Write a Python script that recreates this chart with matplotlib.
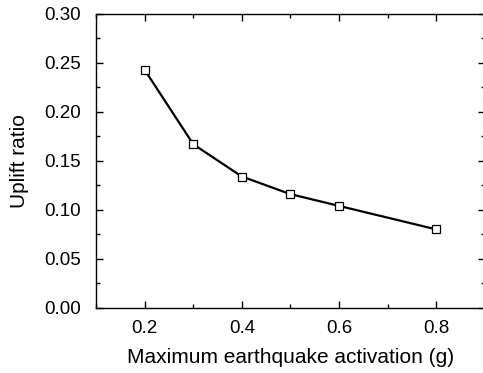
import numpy as np
import matplotlib
matplotlib.use("Agg")
import matplotlib.pyplot as plt
from matplotlib.ticker import MultipleLocator

plt.rcParams['font.family'] = ['Liberation Sans', 'DejaVu Sans']

# data
pga = [0.2, 0.3, 0.4, 0.5, 0.6, 0.8]
uplift = [0.243, 0.167, 0.134, 0.116, 0.104, 0.080]
xticks = [0.2, 0.4, 0.6, 0.8]
xlabels = ["0.2", "0.4", "0.6", "0.8"]

fig = plt.figure(figsize=(4.83, 3.73), dpi=100)
ax = fig.add_axes([0.1988, 0.175, 0.805, 0.7875])

ax.plot(pga, uplift, color="black", lw=1.6, marker="s", ms=5.2,
        mfc="white", mec="black", mew=0.9)

ax.set_xlim(0.1, 0.9)
ax.set_ylim(0.0, 0.30)
ax.set_xticks(xticks)
ax.set_xticklabels(xlabels)
ax.xaxis.set_minor_locator(MultipleLocator(0.1))
ax.yaxis.set_major_locator(MultipleLocator(0.05))
ax.yaxis.set_minor_locator(MultipleLocator(0.025))
ax.yaxis.set_major_formatter(matplotlib.ticker.FormatStrFormatter("%.2f"))

ax.tick_params(which="both", direction="in", top=True, right=True,
               labelsize=13.5, width=1.0)
ax.tick_params(axis="x", pad=9)
ax.tick_params(axis="y", pad=11)
ax.tick_params(which="major", length=5)
ax.tick_params(which="minor", length=3)
for s in ax.spines.values():
    s.set_linewidth(1.0)

ax.set_xlabel("Maximum earthquake activation (g)", fontsize=15, labelpad=8)
ax.set_ylabel("Uplift ratio", fontsize=15, labelpad=11)

fig.savefig("out.png", dpi=100)
